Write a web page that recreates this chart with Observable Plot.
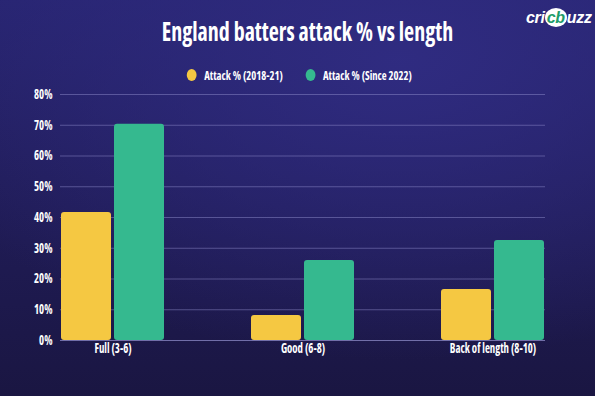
<!DOCTYPE html>
<html>
<head>
<meta charset="utf-8">
<script src="https://cdn.jsdelivr.net/npm/d3@7"></script>
<script src="https://cdn.jsdelivr.net/npm/@observablehq/plot@0.6"></script>
<style>
  html, body { margin: 0; padding: 0; }
  body {
    width: 595px; height: 396px; overflow: hidden; position: relative;
    background:
      radial-gradient(ellipse 520px 300px at 400px 60px, rgba(48,44,130,0.95), rgba(48,44,130,0) 100%),
      linear-gradient(180deg, #272470 0%, #211d5a 45%, #1a1642 100%);
    font-family: "Open Sans", sans-serif;
    font-stretch: 75%;
    color: #fff;
  }
  #header { position: relative; height: 80px; }
  #title {
    position: absolute; left: 0; right: 0; top: 13px; text-align: center;
    font-size: 26px; font-weight: bold; transform: translateX(10px) scaleX(0.845); transform-origin: 297.5px 0;
  }
  #logo {
    position: absolute; left: 526px; top: 9px; font-size: 16px; font-weight: bold; font-style: italic;
    font-family: "Liberation Sans", sans-serif; font-stretch: normal; letter-spacing: -0.3px;
  }
  #logo .cb { color: #1f9d6a; background: #fff; border-radius: 50%; padding: 1px 2px; }
  #legend {
    position: absolute; left: 0; right: 0; top: 66px; text-align: center; font-size: 13px; font-weight: bold;
    transform: translateX(2px) scaleX(0.82); transform-origin: 297.5px 0;
  }
  #legend span.item { margin: 0 14px; }
  #legend i { display: inline-block; width: 12px; height: 12px; border-radius: 50%; margin-right: 9px; vertical-align: -1px; }
  svg text { font-family: "Open Sans", sans-serif; font-stretch: 75%; }
</style>
</head>
<body>
<div id="header">
  <div id="title">England batters attack % vs length</div>
  <div id="logo">cri<span class="cb">cb</span>uzz</div>
  <div id="legend"></div>
</div>
<div id="chart"></div>
<script>
const categories = ["Full (3-6)", "Good (6-8)", "Back of length (8-10)"];
const seriesNames = ["Attack % (2018-21)", "Attack % (Since 2022)"];
const seriesColors = ["#f5c842", "#35b98f"];
const attack2018_21 = [41.6, 8.1, 16.6];
const attackSince2022 = [70.3, 26.0, 32.5];
const yTicks = [0, 10, 20, 30, 40, 50, 60, 70, 80];

const d1 = categories.map((c, i) => ({category: c, value: attack2018_21[i]}));
const d2 = categories.map((c, i) => ({category: c, value: attackSince2022[i]}));

document.getElementById("legend").innerHTML = seriesNames.map((s, i) =>
  `<span class="item"><i style="background:${seriesColors[i]}"></i>${s}</span>`).join("");

const gridColor = "rgba(150,148,210,0.45)";
const chart = Plot.plot({
  width: 595,
  height: 316,
  marginTop: 14,
  marginBottom: 56,
  marginLeft: 60,
  marginRight: 50,
  style: {background: "transparent", color: "#fff", fontSize: "13.5px", fontWeight: "bold", overflow: "visible"},
  x: {domain: categories, paddingInner: 0.46, paddingOuter: 0, label: null, tickSize: 0, tickPadding: 3},
  y: {domain: [0, 80], ticks: yTicks, label: null, tickSize: 0, tickPadding: 8, tickFormat: d => d + "%"},
  marks: [
    Plot.ruleY(yTicks, {stroke: gridColor, strokeWidth: 1}),
    Plot.barY(d1, {x: "category", y: "value", fill: seriesColors[0], insetRight: 53, rx: 3}),
    Plot.barY(d2, {x: "category", y: "value", fill: seriesColors[1], insetLeft: 53, rx: 3}),
    Plot.ruleY([0], {stroke: gridColor, strokeWidth: 1})
  ]
});
// condense tick labels horizontally to mimic the reference's narrow typeface
d3.select(chart).selectAll('g[aria-label$="tick label"] text').each(function() {
  const t = this.getAttribute("transform") || "";
  this.setAttribute("transform", t + " scale(0.8,1)");
});
document.getElementById("chart").appendChild(chart);
</script>
</body>
</html>
